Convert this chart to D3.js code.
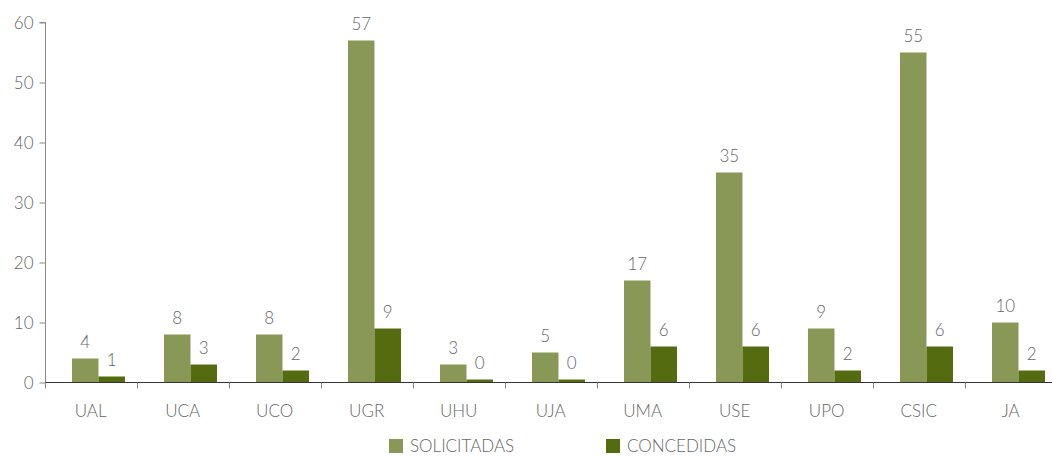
<!DOCTYPE html>
<html><head><meta charset="utf-8">
<script src="https://cdn.jsdelivr.net/npm/d3@7/dist/d3.min.js"></script>
<style>
html,body{margin:0;padding:0;background:#fff;}
svg{display:block;font-family:"Lato","DejaVu Sans",sans-serif;font-weight:300;}
</style></head>
<body>
<svg id="chart" width="1052" height="456"></svg>
<script>
const categories = ["UAL","UCA","UCO","UGR","UHU","UJA","UMA","USE","UPO","CSIC","JA"];
const solicitadas = [4,8,8,57,3,5,17,35,9,55,10];
const concedidas = [1,3,2,9,0,0,6,6,2,6,2];
const seriesNames = ["SOLICITADAS","CONCEDIDAS"];
const seriesColors = ["#8a9857","#546b10"];
const yTicks = [0,10,20,30,40,50,60];

const svg = d3.select("#chart");
const x0 = 45.5, x1 = 1057.5, yTop = 22.5, yBot = 382.5;
const x = d3.scaleBand().domain(categories).range([x0, x1]).padding(0);
const y = d3.scaleLinear().domain([0, 60]).range([yBot, yTop]);
const bw = x.bandwidth();
const barW = bw * 0.288;
const barOff = bw * 0.288;
const textColor = "#666";

// y axis
const yAxis = d3.axisLeft(y).tickValues(yTicks).tickSize(6).tickPadding(6).tickFormat(d3.format("d"));
const gy = svg.append("g").attr("transform", `translate(${x0},0)`).call(yAxis);
gy.select(".domain").attr("stroke", "#8a8a8a").attr("d", `M-6,${yTop}H0V${yBot+6}`);
gy.selectAll(".tick line").attr("stroke", "#8a8a8a");
gy.selectAll(".tick text").attr("fill", textColor).style("font-size", "17px").style("font-family", "Lato").style("font-weight", 300).attr("dy", "0.36em");

// bars
const data = [solicitadas, concedidas];
data.forEach((vals, si) => {
  svg.append("g").selectAll("rect").data(vals).join("rect")
    .attr("x", (d, i) => x(categories[i]) + barOff + si * barW)
    .attr("width", barW)
    .attr("y", d => Math.min(y(d), yBot - 3))
    .attr("height", d => Math.max(yBot - y(d), 3))
    .attr("fill", seriesColors[si]);
  svg.append("g").selectAll("text").data(vals).join("text")
    .attr("x", (d, i) => x(categories[i]) + barOff + si * barW + barW / 2)
    .attr("y", d => Math.min(y(d), yBot - 3) - 11)
    .attr("text-anchor", "middle")
    .attr("fill", textColor)
    .style("font-size", "17px")
    .text(d => d);
});

// x axis
const xAxis = d3.axisBottom(x).tickSize(0).tickPadding(22);
const gx = svg.append("g").attr("transform", `translate(0,${yBot})`).call(xAxis);
gx.select(".domain").attr("stroke", "#333").attr("d", `M${x0},0H${x1}`);
gx.selectAll(".tick text").attr("fill", textColor).style("font-size", "17px").style("font-family", "Lato").style("font-weight", 300).attr("dx", "-0.05em");
// category separator ticks
svg.append("g").selectAll("line").data(categories.slice(1)).join("line")
  .attr("x1", d => x(d)).attr("x2", d => x(d))
  .attr("y1", yBot).attr("y2", yBot + 6)
  .attr("stroke", "#8a8a8a");

// legend
const legX = [389, 606];
seriesNames.forEach((n, i) => {
  const g = svg.append("g").attr("transform", `translate(${legX[i]},439)`);
  g.append("rect").attr("width", 14).attr("height", 14).attr("fill", seriesColors[i]);
  g.append("text").attr("x", 21).attr("y", 13).attr("fill", textColor).style("font-size", "17px").text(n);
});
</script>
</body></html>
